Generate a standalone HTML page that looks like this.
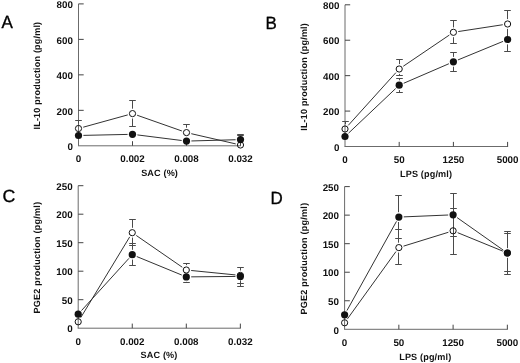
<!DOCTYPE html>
<html><head><meta charset="utf-8"><style>
html,body{margin:0;padding:0;background:#fff;}
svg{display:block;will-change:transform;}
text{text-rendering:geometricPrecision;}
.t{font-family:"Liberation Sans", sans-serif;font-weight:bold;font-size:9.8px;fill:#111;}
.a{font-family:"Liberation Sans", sans-serif;font-weight:bold;font-size:9px;fill:#111;}
.xa{font-family:"Liberation Sans", sans-serif;font-weight:bold;font-size:9.1px;letter-spacing:0.15px;fill:#111;}
.L{font-family:"Liberation Sans", sans-serif;font-size:17.7px;fill:#000;stroke:#000;stroke-width:0.35px;}
</style></head><body>
<svg width="520" height="363" viewBox="0 0 520 363">
<rect width="520" height="363" fill="#fff"/>
<line x1="78.5" y1="3.9" x2="78.5" y2="145.8" stroke="#6b6b6b" stroke-width="1.0"/>
<line x1="78.0" y1="145.8" x2="241.0" y2="145.8" stroke="#6b6b6b" stroke-width="1.0"/>
<text x="72.9" y="150.00" text-anchor="end" class="t">0</text>
<line x1="78.5" y1="110.33" x2="83.7" y2="110.33" stroke="#444" stroke-width="1.0"/>
<text x="72.9" y="114.53" text-anchor="end" class="t">200</text>
<line x1="78.5" y1="74.85" x2="83.7" y2="74.85" stroke="#444" stroke-width="1.0"/>
<text x="72.9" y="79.05" text-anchor="end" class="t">400</text>
<line x1="78.5" y1="39.38" x2="83.7" y2="39.38" stroke="#444" stroke-width="1.0"/>
<text x="72.9" y="43.58" text-anchor="end" class="t">600</text>
<line x1="78.5" y1="3.90" x2="83.7" y2="3.90" stroke="#444" stroke-width="1.0"/>
<text x="72.9" y="8.10" text-anchor="end" class="t">800</text>
<text x="78.5" y="162.20000000000002" text-anchor="middle" class="t">0</text>
<line x1="132.5" y1="145.8" x2="132.5" y2="141.20000000000002" stroke="#444" stroke-width="1.0"/>
<text x="132.5" y="162.20000000000002" text-anchor="middle" class="t">0.002</text>
<line x1="186.5" y1="145.8" x2="186.5" y2="141.20000000000002" stroke="#444" stroke-width="1.0"/>
<text x="186.5" y="162.20000000000002" text-anchor="middle" class="t">0.008</text>
<line x1="240.5" y1="145.8" x2="240.5" y2="141.20000000000002" stroke="#444" stroke-width="1.0"/>
<text x="240.5" y="162.20000000000002" text-anchor="middle" class="t">0.032</text>
<line x1="83.22" y1="127.20" x2="127.78" y2="114.90" stroke="#333" stroke-width="1.0"/>
<line x1="137.12" y1="115.23" x2="181.88" y2="130.97" stroke="#333" stroke-width="1.0"/>
<line x1="191.28" y1="133.70" x2="235.72" y2="143.90" stroke="#333" stroke-width="1.0"/>
<line x1="83.40" y1="135.39" x2="127.60" y2="134.41" stroke="#333" stroke-width="1.0"/>
<line x1="137.36" y1="134.91" x2="181.64" y2="140.49" stroke="#333" stroke-width="1.0"/>
<line x1="191.40" y1="140.96" x2="235.60" y2="139.74" stroke="#333" stroke-width="1.0"/>
<line x1="78.50" y1="123.60" x2="78.50" y2="120.50" stroke="#4a4a4a" stroke-width="1.0"/>
<line x1="75.20" y1="120.50" x2="81.80" y2="120.50" stroke="#4a4a4a" stroke-width="1.0"/>
<line x1="132.50" y1="108.70" x2="132.50" y2="100.50" stroke="#4a4a4a" stroke-width="1.0"/>
<line x1="129.20" y1="100.50" x2="135.80" y2="100.50" stroke="#4a4a4a" stroke-width="1.0"/>
<line x1="132.50" y1="118.50" x2="132.50" y2="126.50" stroke="#4a4a4a" stroke-width="1.0"/>
<line x1="129.20" y1="126.50" x2="135.80" y2="126.50" stroke="#4a4a4a" stroke-width="1.0"/>
<line x1="186.50" y1="127.70" x2="186.50" y2="124.50" stroke="#4a4a4a" stroke-width="1.0"/>
<line x1="183.20" y1="124.50" x2="189.80" y2="124.50" stroke="#4a4a4a" stroke-width="1.0"/>
<line x1="240.50" y1="140.10" x2="240.50" y2="134.50" stroke="#4a4a4a" stroke-width="1.0"/>
<line x1="237.20" y1="134.50" x2="243.80" y2="134.50" stroke="#4a4a4a" stroke-width="1.0"/>
<line x1="237.20" y1="135.50" x2="243.80" y2="135.50" stroke="#4a4a4a" stroke-width="1.0"/>
<circle cx="78.50" cy="128.50" r="3.1" fill="none" stroke="#111" stroke-width="1.0"/>
<circle cx="132.50" cy="113.60" r="3.1" fill="none" stroke="#111" stroke-width="1.0"/>
<circle cx="186.50" cy="132.60" r="3.1" fill="none" stroke="#111" stroke-width="1.0"/>
<circle cx="240.50" cy="145.00" r="3.1" fill="none" stroke="#111" stroke-width="1.0"/>
<circle cx="78.50" cy="135.50" r="3.6" fill="#111"/>
<circle cx="132.50" cy="134.30" r="3.6" fill="#111"/>
<circle cx="186.50" cy="141.10" r="3.6" fill="#111"/>
<circle cx="240.50" cy="139.60" r="3.6" fill="#111"/>
<text x="159.6" y="176.3" text-anchor="middle" class="xa">SAC (%)</text>
<text transform="translate(40.4,75.6) rotate(-90)" text-anchor="middle" class="a" style="letter-spacing:0.2px">IL-10 production (pg/ml)</text>
<text transform="translate(1.6,27.5) scale(0.96,1.0)" class="L">A</text>
<line x1="345.0" y1="4.8" x2="345.0" y2="146.5" stroke="#6b6b6b" stroke-width="1.0"/>
<line x1="344.5" y1="146.5" x2="508.1" y2="146.5" stroke="#6b6b6b" stroke-width="1.0"/>
<text x="339.4" y="150.70" text-anchor="end" class="t">0</text>
<line x1="345.0" y1="111.08" x2="350.2" y2="111.08" stroke="#444" stroke-width="1.0"/>
<text x="339.4" y="115.28" text-anchor="end" class="t">200</text>
<line x1="345.0" y1="75.65" x2="350.2" y2="75.65" stroke="#444" stroke-width="1.0"/>
<text x="339.4" y="79.85" text-anchor="end" class="t">400</text>
<line x1="345.0" y1="40.23" x2="350.2" y2="40.23" stroke="#444" stroke-width="1.0"/>
<text x="339.4" y="44.43" text-anchor="end" class="t">600</text>
<line x1="345.0" y1="4.80" x2="350.2" y2="4.80" stroke="#444" stroke-width="1.0"/>
<text x="339.4" y="9.00" text-anchor="end" class="t">800</text>
<text x="345.0" y="162.9" text-anchor="middle" class="t">0</text>
<line x1="399.2" y1="146.5" x2="399.2" y2="141.9" stroke="#444" stroke-width="1.0"/>
<text x="399.2" y="162.9" text-anchor="middle" class="t">50</text>
<line x1="453.4" y1="146.5" x2="453.4" y2="141.9" stroke="#444" stroke-width="1.0"/>
<text x="453.4" y="162.9" text-anchor="middle" class="t">1250</text>
<line x1="507.6" y1="146.5" x2="507.6" y2="141.9" stroke="#444" stroke-width="1.0"/>
<text x="507.6" y="162.9" text-anchor="middle" class="t">5000</text>
<line x1="348.28" y1="125.36" x2="395.92" y2="72.64" stroke="#333" stroke-width="1.0"/>
<line x1="403.26" y1="66.25" x2="449.34" y2="35.05" stroke="#333" stroke-width="1.0"/>
<line x1="458.24" y1="31.56" x2="502.76" y2="24.74" stroke="#333" stroke-width="1.0"/>
<line x1="348.56" y1="133.13" x2="395.64" y2="88.57" stroke="#333" stroke-width="1.0"/>
<line x1="403.70" y1="83.26" x2="448.90" y2="63.74" stroke="#333" stroke-width="1.0"/>
<line x1="457.93" y1="59.94" x2="503.07" y2="41.36" stroke="#333" stroke-width="1.0"/>
<line x1="345.50" y1="124.10" x2="345.50" y2="121.50" stroke="#4a4a4a" stroke-width="1.0"/>
<line x1="342.20" y1="121.50" x2="348.80" y2="121.50" stroke="#4a4a4a" stroke-width="1.0"/>
<line x1="399.50" y1="64.10" x2="399.50" y2="59.50" stroke="#4a4a4a" stroke-width="1.0"/>
<line x1="396.20" y1="59.50" x2="402.80" y2="59.50" stroke="#4a4a4a" stroke-width="1.0"/>
<line x1="399.50" y1="73.90" x2="399.50" y2="75.50" stroke="#4a4a4a" stroke-width="1.0"/>
<line x1="396.20" y1="75.50" x2="402.80" y2="75.50" stroke="#4a4a4a" stroke-width="1.0"/>
<line x1="453.50" y1="27.40" x2="453.50" y2="20.50" stroke="#4a4a4a" stroke-width="1.0"/>
<line x1="450.20" y1="20.50" x2="456.80" y2="20.50" stroke="#4a4a4a" stroke-width="1.0"/>
<line x1="453.50" y1="37.20" x2="453.50" y2="43.50" stroke="#4a4a4a" stroke-width="1.0"/>
<line x1="450.20" y1="43.50" x2="456.80" y2="43.50" stroke="#4a4a4a" stroke-width="1.0"/>
<line x1="507.50" y1="19.10" x2="507.50" y2="10.50" stroke="#4a4a4a" stroke-width="1.0"/>
<line x1="504.20" y1="10.50" x2="510.80" y2="10.50" stroke="#4a4a4a" stroke-width="1.0"/>
<line x1="507.50" y1="28.90" x2="507.50" y2="39.50" stroke="#4a4a4a" stroke-width="1.0"/>
<line x1="504.20" y1="39.50" x2="510.80" y2="39.50" stroke="#4a4a4a" stroke-width="1.0"/>
<line x1="399.50" y1="80.30" x2="399.50" y2="78.50" stroke="#4a4a4a" stroke-width="1.0"/>
<line x1="396.20" y1="78.50" x2="402.80" y2="78.50" stroke="#4a4a4a" stroke-width="1.0"/>
<line x1="399.50" y1="90.10" x2="399.50" y2="92.50" stroke="#4a4a4a" stroke-width="1.0"/>
<line x1="396.20" y1="92.50" x2="402.80" y2="92.50" stroke="#4a4a4a" stroke-width="1.0"/>
<line x1="453.50" y1="56.90" x2="453.50" y2="52.50" stroke="#4a4a4a" stroke-width="1.0"/>
<line x1="450.20" y1="52.50" x2="456.80" y2="52.50" stroke="#4a4a4a" stroke-width="1.0"/>
<line x1="453.50" y1="66.70" x2="453.50" y2="71.50" stroke="#4a4a4a" stroke-width="1.0"/>
<line x1="450.20" y1="71.50" x2="456.80" y2="71.50" stroke="#4a4a4a" stroke-width="1.0"/>
<line x1="507.50" y1="44.40" x2="507.50" y2="51.50" stroke="#4a4a4a" stroke-width="1.0"/>
<line x1="504.20" y1="51.50" x2="510.80" y2="51.50" stroke="#4a4a4a" stroke-width="1.0"/>
<circle cx="345.00" cy="129.00" r="3.1" fill="none" stroke="#111" stroke-width="1.0"/>
<circle cx="399.20" cy="69.00" r="3.1" fill="none" stroke="#111" stroke-width="1.0"/>
<circle cx="453.40" cy="32.30" r="3.1" fill="none" stroke="#111" stroke-width="1.0"/>
<circle cx="507.60" cy="24.00" r="3.1" fill="none" stroke="#111" stroke-width="1.0"/>
<circle cx="345.00" cy="136.50" r="3.6" fill="#111"/>
<circle cx="399.20" cy="85.20" r="3.6" fill="#111"/>
<circle cx="453.40" cy="61.80" r="3.6" fill="#111"/>
<circle cx="507.60" cy="39.50" r="3.6" fill="#111"/>
<text x="426.1" y="177" text-anchor="middle" class="xa">LPS (pg/ml)</text>
<text transform="translate(307.4,76.9) rotate(-90)" text-anchor="middle" class="a" style="letter-spacing:0.2px">IL-10 production (pg/ml)</text>
<text transform="translate(265.5,28.9) scale(0.96,1.0)" class="L">B</text>
<line x1="78.2" y1="185.7" x2="78.2" y2="328.2" stroke="#6b6b6b" stroke-width="1.0"/>
<line x1="77.7" y1="328.2" x2="240.84999999999997" y2="328.2" stroke="#6b6b6b" stroke-width="1.0"/>
<text x="72.60000000000001" y="332.40" text-anchor="end" class="t">0</text>
<line x1="78.2" y1="299.70" x2="83.4" y2="299.70" stroke="#444" stroke-width="1.0"/>
<text x="72.60000000000001" y="303.90" text-anchor="end" class="t">50</text>
<line x1="78.2" y1="271.20" x2="83.4" y2="271.20" stroke="#444" stroke-width="1.0"/>
<text x="72.60000000000001" y="275.40" text-anchor="end" class="t">100</text>
<line x1="78.2" y1="242.70" x2="83.4" y2="242.70" stroke="#444" stroke-width="1.0"/>
<text x="72.60000000000001" y="246.90" text-anchor="end" class="t">150</text>
<line x1="78.2" y1="214.20" x2="83.4" y2="214.20" stroke="#444" stroke-width="1.0"/>
<text x="72.60000000000001" y="218.40" text-anchor="end" class="t">200</text>
<line x1="78.2" y1="185.70" x2="83.4" y2="185.70" stroke="#444" stroke-width="1.0"/>
<text x="72.60000000000001" y="189.90" text-anchor="end" class="t">250</text>
<text x="78.2" y="344.59999999999997" text-anchor="middle" class="t">0</text>
<line x1="132.25" y1="328.2" x2="132.25" y2="323.59999999999997" stroke="#444" stroke-width="1.0"/>
<text x="132.25" y="344.59999999999997" text-anchor="middle" class="t">0.002</text>
<line x1="186.3" y1="328.2" x2="186.3" y2="323.59999999999997" stroke="#444" stroke-width="1.0"/>
<text x="186.3" y="344.59999999999997" text-anchor="middle" class="t">0.008</text>
<line x1="240.34999999999997" y1="328.2" x2="240.34999999999997" y2="323.59999999999997" stroke="#444" stroke-width="1.0"/>
<text x="240.34999999999997" y="344.59999999999997" text-anchor="middle" class="t">0.032</text>
<line x1="80.74" y1="317.61" x2="129.71" y2="236.89" stroke="#333" stroke-width="1.0"/>
<line x1="136.28" y1="235.48" x2="182.27" y2="267.22" stroke="#333" stroke-width="1.0"/>
<line x1="191.18" y1="270.49" x2="235.47" y2="274.91" stroke="#333" stroke-width="1.0"/>
<line x1="81.49" y1="310.57" x2="128.96" y2="258.33" stroke="#333" stroke-width="1.0"/>
<line x1="136.78" y1="256.56" x2="181.77" y2="275.04" stroke="#333" stroke-width="1.0"/>
<line x1="191.20" y1="276.85" x2="235.45" y2="276.45" stroke="#333" stroke-width="1.0"/>
<line x1="132.50" y1="227.80" x2="132.50" y2="219.50" stroke="#4a4a4a" stroke-width="1.0"/>
<line x1="129.20" y1="219.50" x2="135.80" y2="219.50" stroke="#4a4a4a" stroke-width="1.0"/>
<line x1="132.50" y1="237.60" x2="132.50" y2="245.50" stroke="#4a4a4a" stroke-width="1.0"/>
<line x1="129.20" y1="245.50" x2="135.80" y2="245.50" stroke="#4a4a4a" stroke-width="1.0"/>
<line x1="186.50" y1="265.10" x2="186.50" y2="263.50" stroke="#4a4a4a" stroke-width="1.0"/>
<line x1="183.20" y1="263.50" x2="189.80" y2="263.50" stroke="#4a4a4a" stroke-width="1.0"/>
<line x1="240.50" y1="270.50" x2="240.50" y2="267.50" stroke="#4a4a4a" stroke-width="1.0"/>
<line x1="237.20" y1="267.50" x2="243.80" y2="267.50" stroke="#4a4a4a" stroke-width="1.0"/>
<line x1="240.50" y1="280.30" x2="240.50" y2="286.50" stroke="#4a4a4a" stroke-width="1.0"/>
<line x1="237.20" y1="286.50" x2="243.80" y2="286.50" stroke="#4a4a4a" stroke-width="1.0"/>
<line x1="132.50" y1="249.80" x2="132.50" y2="243.50" stroke="#4a4a4a" stroke-width="1.0"/>
<line x1="129.20" y1="243.50" x2="135.80" y2="243.50" stroke="#4a4a4a" stroke-width="1.0"/>
<line x1="132.50" y1="259.60" x2="132.50" y2="265.50" stroke="#4a4a4a" stroke-width="1.0"/>
<line x1="129.20" y1="265.50" x2="135.80" y2="265.50" stroke="#4a4a4a" stroke-width="1.0"/>
<line x1="186.50" y1="281.80" x2="186.50" y2="282.50" stroke="#4a4a4a" stroke-width="1.0"/>
<line x1="183.20" y1="282.50" x2="189.80" y2="282.50" stroke="#4a4a4a" stroke-width="1.0"/>
<line x1="240.50" y1="281.30" x2="240.50" y2="283.50" stroke="#4a4a4a" stroke-width="1.0"/>
<line x1="237.20" y1="283.50" x2="243.80" y2="283.50" stroke="#4a4a4a" stroke-width="1.0"/>
<circle cx="78.20" cy="321.80" r="3.1" fill="none" stroke="#111" stroke-width="1.0"/>
<circle cx="132.25" cy="232.70" r="3.1" fill="none" stroke="#111" stroke-width="1.0"/>
<circle cx="186.30" cy="270.00" r="3.1" fill="none" stroke="#111" stroke-width="1.0"/>
<circle cx="240.35" cy="275.40" r="3.1" fill="none" stroke="#111" stroke-width="1.0"/>
<circle cx="78.20" cy="314.20" r="3.6" fill="#111"/>
<circle cx="132.25" cy="254.70" r="3.6" fill="#111"/>
<circle cx="186.30" cy="276.90" r="3.6" fill="#111"/>
<circle cx="240.35" cy="276.40" r="3.6" fill="#111"/>
<text x="159.05" y="357.8" text-anchor="middle" class="xa">SAC (%)</text>
<text transform="translate(40.1,257.6) rotate(-90)" text-anchor="middle" class="a" style="letter-spacing:0.26px">PGE2 production (pg/ml)</text>
<text transform="translate(2.4,202.4) scale(1.0,1.0)" class="L">C</text>
<line x1="344.6" y1="186.6" x2="344.6" y2="329.3" stroke="#6b6b6b" stroke-width="1.0"/>
<line x1="344.1" y1="329.3" x2="507.85" y2="329.3" stroke="#6b6b6b" stroke-width="1.0"/>
<text x="339.0" y="333.50" text-anchor="end" class="t">0</text>
<line x1="344.6" y1="300.76" x2="349.8" y2="300.76" stroke="#444" stroke-width="1.0"/>
<text x="339.0" y="304.96" text-anchor="end" class="t">50</text>
<line x1="344.6" y1="272.22" x2="349.8" y2="272.22" stroke="#444" stroke-width="1.0"/>
<text x="339.0" y="276.42" text-anchor="end" class="t">100</text>
<line x1="344.6" y1="243.68" x2="349.8" y2="243.68" stroke="#444" stroke-width="1.0"/>
<text x="339.0" y="247.88" text-anchor="end" class="t">150</text>
<line x1="344.6" y1="215.14" x2="349.8" y2="215.14" stroke="#444" stroke-width="1.0"/>
<text x="339.0" y="219.34" text-anchor="end" class="t">200</text>
<line x1="344.6" y1="186.60" x2="349.8" y2="186.60" stroke="#444" stroke-width="1.0"/>
<text x="339.0" y="190.80" text-anchor="end" class="t">250</text>
<text x="344.6" y="345.7" text-anchor="middle" class="t">0</text>
<line x1="398.85" y1="329.3" x2="398.85" y2="324.7" stroke="#444" stroke-width="1.0"/>
<text x="398.85" y="345.7" text-anchor="middle" class="t">50</text>
<line x1="453.1" y1="329.3" x2="453.1" y2="324.7" stroke="#444" stroke-width="1.0"/>
<text x="453.1" y="345.7" text-anchor="middle" class="t">1250</text>
<line x1="507.35" y1="329.3" x2="507.35" y2="324.7" stroke="#444" stroke-width="1.0"/>
<text x="507.35" y="345.7" text-anchor="middle" class="t">5000</text>
<line x1="347.47" y1="318.83" x2="395.98" y2="251.57" stroke="#333" stroke-width="1.0"/>
<line x1="403.53" y1="246.15" x2="448.42" y2="232.25" stroke="#333" stroke-width="1.0"/>
<line x1="457.63" y1="232.66" x2="502.82" y2="251.14" stroke="#333" stroke-width="1.0"/>
<line x1="346.98" y1="310.52" x2="396.47" y2="221.38" stroke="#333" stroke-width="1.0"/>
<line x1="403.75" y1="216.89" x2="448.20" y2="215.01" stroke="#333" stroke-width="1.0"/>
<line x1="457.11" y1="217.62" x2="503.34" y2="250.18" stroke="#333" stroke-width="1.0"/>
<line x1="398.50" y1="242.70" x2="398.50" y2="229.50" stroke="#4a4a4a" stroke-width="1.0"/>
<line x1="395.20" y1="229.50" x2="401.80" y2="229.50" stroke="#4a4a4a" stroke-width="1.0"/>
<line x1="398.50" y1="252.50" x2="398.50" y2="264.50" stroke="#4a4a4a" stroke-width="1.0"/>
<line x1="395.20" y1="264.50" x2="401.80" y2="264.50" stroke="#4a4a4a" stroke-width="1.0"/>
<line x1="453.50" y1="225.90" x2="453.50" y2="208.50" stroke="#4a4a4a" stroke-width="1.0"/>
<line x1="450.20" y1="208.50" x2="456.80" y2="208.50" stroke="#4a4a4a" stroke-width="1.0"/>
<line x1="453.50" y1="235.70" x2="453.50" y2="254.50" stroke="#4a4a4a" stroke-width="1.0"/>
<line x1="450.20" y1="254.50" x2="456.80" y2="254.50" stroke="#4a4a4a" stroke-width="1.0"/>
<line x1="507.50" y1="248.10" x2="507.50" y2="233.50" stroke="#4a4a4a" stroke-width="1.0"/>
<line x1="504.20" y1="233.50" x2="510.80" y2="233.50" stroke="#4a4a4a" stroke-width="1.0"/>
<line x1="507.50" y1="257.90" x2="507.50" y2="274.50" stroke="#4a4a4a" stroke-width="1.0"/>
<line x1="504.20" y1="274.50" x2="510.80" y2="274.50" stroke="#4a4a4a" stroke-width="1.0"/>
<line x1="398.50" y1="212.20" x2="398.50" y2="195.50" stroke="#4a4a4a" stroke-width="1.0"/>
<line x1="395.20" y1="195.50" x2="401.80" y2="195.50" stroke="#4a4a4a" stroke-width="1.0"/>
<line x1="398.50" y1="222.00" x2="398.50" y2="238.50" stroke="#4a4a4a" stroke-width="1.0"/>
<line x1="395.20" y1="238.50" x2="401.80" y2="238.50" stroke="#4a4a4a" stroke-width="1.0"/>
<line x1="453.50" y1="209.90" x2="453.50" y2="193.50" stroke="#4a4a4a" stroke-width="1.0"/>
<line x1="450.20" y1="193.50" x2="456.80" y2="193.50" stroke="#4a4a4a" stroke-width="1.0"/>
<line x1="453.50" y1="219.70" x2="453.50" y2="236.50" stroke="#4a4a4a" stroke-width="1.0"/>
<line x1="450.20" y1="236.50" x2="456.80" y2="236.50" stroke="#4a4a4a" stroke-width="1.0"/>
<line x1="507.50" y1="248.10" x2="507.50" y2="231.50" stroke="#4a4a4a" stroke-width="1.0"/>
<line x1="504.20" y1="231.50" x2="510.80" y2="231.50" stroke="#4a4a4a" stroke-width="1.0"/>
<line x1="507.50" y1="257.90" x2="507.50" y2="271.50" stroke="#4a4a4a" stroke-width="1.0"/>
<line x1="504.20" y1="271.50" x2="510.80" y2="271.50" stroke="#4a4a4a" stroke-width="1.0"/>
<circle cx="344.60" cy="322.80" r="3.1" fill="none" stroke="#111" stroke-width="1.0"/>
<circle cx="398.85" cy="247.60" r="3.1" fill="none" stroke="#111" stroke-width="1.0"/>
<circle cx="453.10" cy="230.80" r="3.1" fill="none" stroke="#111" stroke-width="1.0"/>
<circle cx="507.35" cy="253.00" r="3.1" fill="none" stroke="#111" stroke-width="1.0"/>
<circle cx="344.60" cy="314.80" r="3.6" fill="#111"/>
<circle cx="398.85" cy="217.10" r="3.6" fill="#111"/>
<circle cx="453.10" cy="214.80" r="3.6" fill="#111"/>
<circle cx="507.35" cy="253.00" r="3.6" fill="#111"/>
<text x="425.3" y="359.6" text-anchor="middle" class="xa">LPS (pg/ml)</text>
<text transform="translate(306.8,258.6) rotate(-90)" text-anchor="middle" class="a" style="letter-spacing:0.26px">PGE2 production (pg/ml)</text>
<text transform="translate(270.6,203.8) scale(0.96,1.0)" class="L">D</text>
</svg>
</body></html>
